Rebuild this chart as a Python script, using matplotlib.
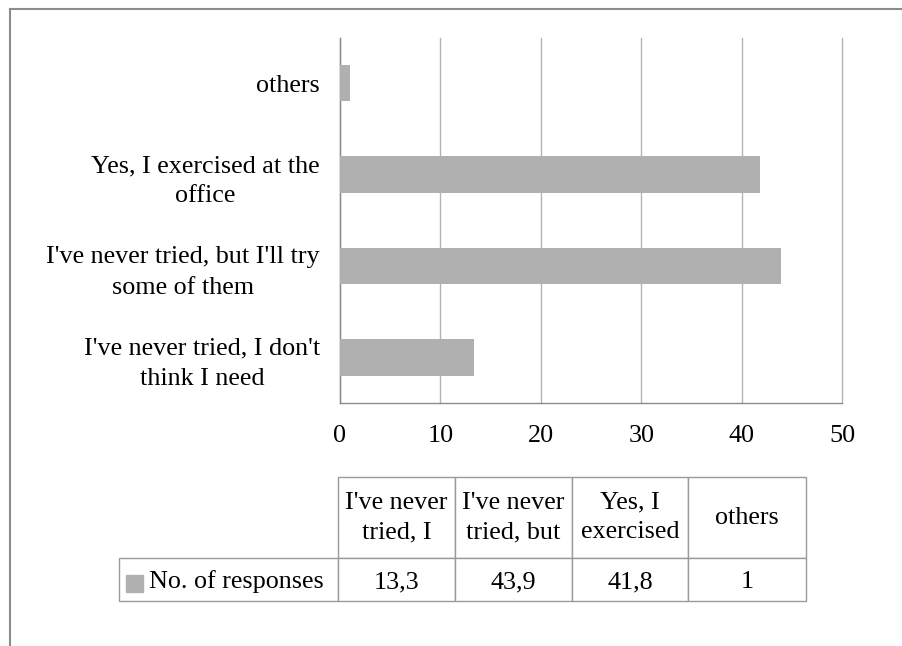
import numpy as np
import matplotlib
matplotlib.use('Agg')
import matplotlib.pyplot as plt
from matplotlib.lines import Line2D
from matplotlib.patches import Rectangle

plt.rcParams['font.family'] = ['Liberation Serif', 'DejaVu Serif']

# data (bottom to top)
categories = ["I've never tried, I don't\nthink I need",
              "I've never tried, but I'll try\nsome of them",
              "Yes, I exercised at the\noffice",
              "others"]
values = [13.3, 43.9, 41.8, 1]
table_headers = ["I've never\ntried, I", "I've never\ntried, but", "Yes, I\nexercised", "others"]
series_name = "No. of responses"
xticks = [0, 10, 20, 30, 40, 50]

bar_color = '#b0b0b0'
fs = 18.8
W, H = 902, 646

fig = plt.figure(figsize=(W / 100, H / 100), dpi=100)

# chart area border (top and left)
fig.add_artist(Line2D([10 / W, 10 / W], [0, 1 - 9 / H], transform=fig.transFigure, color='#8c8c8c', lw=1.5))
fig.add_artist(Line2D([10 / W, 1], [1 - 9 / H, 1 - 9 / H], transform=fig.transFigure, color='#8c8c8c', lw=1.5))

ax = fig.add_axes([340 / W, 1 - 403 / H, 502 / W, 365.5 / H])
y = np.arange(len(categories))
ax.barh(y, values, height=0.4, color=bar_color, zorder=3)
ax.set_xlim(0, 50)
ax.set_ylim(-0.5, len(categories) - 0.5)
ax.set_xticks(xticks)
ax.set_yticks(y)
ax.set_yticklabels(categories, fontsize=fs, multialignment='center', linespacing=1.48)
ax.tick_params(axis='x', length=0, pad=16, labelsize=fs)
ax.tick_params(axis='y', length=0, pad=14.4)
ax.grid(axis='x', color='#b3b3b3', lw=1, zorder=0)
for gl in ax.get_xgridlines():
    gl.set_clip_on(False)
ax.set_axisbelow(True)
for s in ['top', 'right']:
    ax.spines[s].set_visible(False)
for s in ['left', 'bottom']:
    ax.spines[s].set_color('#8c8c8c')
    ax.spines[s].set_linewidth(1)

# data table
tx0, tx1, ty0, ty1 = 119, 806, 477, 601
axt = fig.add_axes([tx0 / W, 1 - ty1 / H, (tx1 - tx0) / W, (ty1 - ty0) / H])
axt.axis('off')
cell_text = [[''] + table_headers,
             [series_name] + [f"{v:g}".replace('.', ',') for v in values]]
col_w = [219, 117, 117, 116, 118]
tbl = axt.table(cellText=cell_text, cellLoc='center', colWidths=col_w, bbox=[0, 0, 1, 1])
tbl.auto_set_font_size(False)
tbl.set_fontsize(fs)
for (r, c), cell in tbl.get_celld().items():
    cell.set_edgecolor('#9a9a9a')
    cell.set_linewidth(1)
    cell.set_height(81 if r == 0 else 43)
    cell.get_text().set_linespacing(1.45)
    if r == 1:
        cell.get_text().set_verticalalignment('center_baseline')
tbl[0, 0].visible_edges = ''
lab = tbl[1, 0]
lab._loc = 'left'
lab.PAD = 30 / 219
lab.get_text().set_horizontalalignment('left')

axt.add_patch(Rectangle((7 / 687, 9 / 124), 17 / 687, 17 / 124, transform=axt.transAxes,
                        color=bar_color, zorder=5, clip_on=False))

fig.savefig('out.png', dpi=100)
